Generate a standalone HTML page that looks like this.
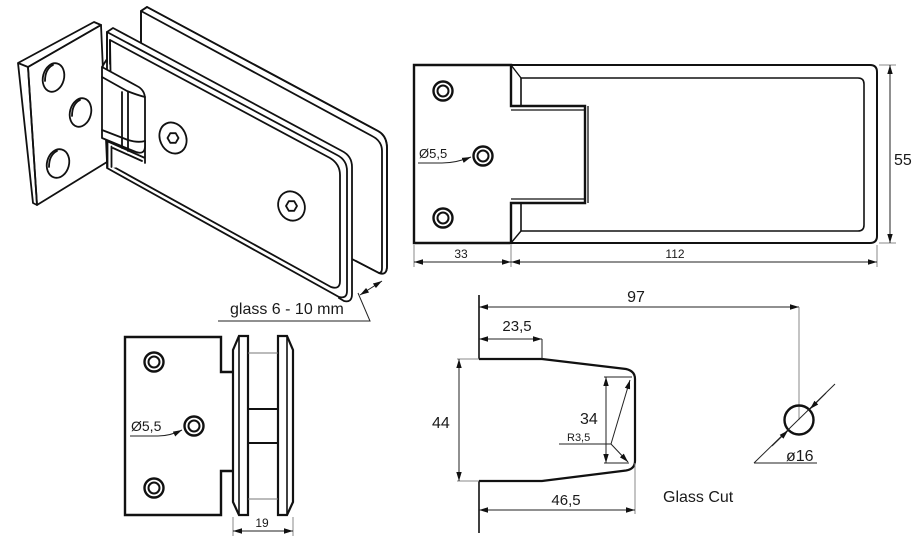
<!DOCTYPE html>
<html><head><meta charset="utf-8"><style>
html,body{margin:0;padding:0;background:#fff;}
svg{display:block;}
text{font-family:"Liberation Sans",Arial,sans-serif;fill:#1a1a1a;}
.i{fill:none;stroke:#111;stroke-width:1.8;stroke-linejoin:round;stroke-linecap:round;}
.iw{fill:#fff;stroke:#111;stroke-width:1.8;stroke-linejoin:round;}
.o{fill:none;stroke:#111;stroke-width:2.4;stroke-linejoin:miter;}
.t{fill:none;stroke:#111;stroke-width:1.2;}
.d{fill:none;stroke:#222;stroke-width:1;}
.e{fill:none;stroke:#8a8a8a;stroke-width:1;}
</style></head><body>
<svg width="918" height="546" viewBox="0 0 918 546" xmlns="http://www.w3.org/2000/svg">
<defs>
<marker id="ar" viewBox="0 0 10 6" refX="10" refY="3" markerWidth="9" markerHeight="6" markerUnits="userSpaceOnUse" orient="auto-start-reverse"><path d="M0,0L10,3L0,6Z" fill="#111"/></marker>
</defs>
<rect width="918" height="546" fill="#fff"/>

<!-- ============ ISOMETRIC VIEW ============ -->
<!-- wall plate -->
<path class="iw" d="M28,67 L101,25 L107,162 L37,205 Z"/>
<path class="i" d="M18,63 L94,22 L101,25 L28,67 Z M18,63 L33,203 L37,205 L28,67"/>
<ellipse class="i" cx="53.5" cy="77.5" rx="10.5" ry="14.5" transform="rotate(15 53.5 77.5)"/>
<path class="i" d="M53,65 Q45,69 45,81"/>
<ellipse class="i" cx="80.5" cy="112.5" rx="10.5" ry="14.5" transform="rotate(15 80.5 112.5)"/>
<path class="i" d="M80,100 Q72,104 72,116"/>
<ellipse class="i" cx="58" cy="163.5" rx="11" ry="14.5" transform="rotate(15 58 163.5)"/>
<path class="i" d="M57,151 Q49,155 49,167"/>

<!-- back clamp plate -->
<path class="iw" d="M141,11 L147,7 L378,131 Q387,136 387,148 L387,266 Q387,276 379,273 L141,150 Z"/>
<path class="i" d="M147,7 L378,131 Q387,136 387,148 L387,266 Q387,276 379,273 L356,261"/>
<path class="i" d="M141,11 L147,7 M141,11 L372,136 Q382,141 382,151 L382,268 Q382,273 379,273"/>
<path class="i" d="M141,11 L141,46"/>

<!-- front clamp plate -->
<path fill="#fff" stroke="none" d="M107,32 L113,28 L342,151 Q352,156 352,167 L352,294 Q352,303 345,301 L107,168 Z"/>
<path class="i" d="M107,32 L113,28 L342,151 Q352,156 352,167 L352,294 Q352,303 344,301 L339,298"/>
<path class="i" d="M107,32 L337,155 Q347,160 347,171 L347,291 Q347,299 339,297 L107,168 Z"/>
<path class="i" d="M110,40 L330,158 Q340,164 340,175 L340,281 Q340,290 331,287 L112,166 L110,40"/>

<!-- screws -->
<ellipse class="i" cx="173" cy="138" rx="13" ry="16" transform="rotate(-25 173 138)"/>
<polygon class="i" points="178.5,138 175.7,142.8 170.3,142.8 167.5,138 170.3,133.2 175.7,133.2"/>
<ellipse class="i" cx="291.5" cy="206" rx="13" ry="15" transform="rotate(-25 291.5 206)"/>
<polygon class="i" points="297,206 294.2,210.8 288.8,210.8 286,206 288.8,201.2 294.2,201.2"/>

<!-- hinge knuckle -->
<path class="i" d="M107,32 V62 M110,40 V64 M102,67 L107,59"/>
<path class="iw" d="M107,141 L145,141 L145,163 L112,168 L107,168 Z" style="stroke:none"/>
<path class="i" d="M107.5,141.5 V168 M111.5,146.5 V167 M108,141.5 L145,158 M113,148 L142,161 M145,141 V163"/>
<path class="iw" d="M102,67 L137,86 Q145,90 145,99 L145,146 Q145,155 136,152 L102,138 Z"/>
<path class="i" d="M102,77 L127,91 Q137,95 145,97"/>
<path class="i" d="M122,92 V148 M128,92 V151"/>
<path class="i" d="M102,130 L128,140 Q138,143 145,141"/>

<!-- glass label -->
<text x="230" y="314" font-size="16">glass 6 - 10 mm</text>
<path class="d" d="M218,321 H370 L358,293"/>
<line class="d" x1="360" y1="295" x2="382" y2="281" marker-start="url(#ar)" marker-end="url(#ar)"/>

<!-- ============ TOP VIEW (top right) ============ -->
<path class="t" d="M511,65 H870 Q877,65 877,72 V236 Q877,243 870,243 H511" style="stroke-width:2"/>
<path class="t" d="M521,106 V78 H858 Q864,78 864,84 V225 Q864,231 858,231 H521 V203" style="stroke-width:1.6"/>
<path class="t" d="M511,65 L521,78 M511,243 L521,231" style="stroke-width:1.4"/>
<path class="o" d="M414,65 H511 V106 H585 V203 H511 V243 H414 Z"/>
<path class="t" d="M511,110 H585 M511,199 H585 M588,106 V203" style="stroke-width:1.3"/>
<circle cx="443" cy="91" r="9.5" fill="none" stroke="#111" stroke-width="2.4"/>
<circle cx="443" cy="91" r="5.5" fill="none" stroke="#111" stroke-width="2"/>
<circle cx="483" cy="156" r="9.5" fill="none" stroke="#111" stroke-width="2.4"/>
<circle cx="483" cy="156" r="5.5" fill="none" stroke="#111" stroke-width="2"/>
<circle cx="443" cy="218" r="9.5" fill="none" stroke="#111" stroke-width="2.4"/>
<circle cx="443" cy="218" r="5.5" fill="none" stroke="#111" stroke-width="2"/>
<text x="419" y="158" font-size="13">Ø5,5</text>
<path class="d" d="M418,163 H442 Q456,163 471,157" marker-end="url(#ar)"/>
<!-- dims -->
<path class="e" d="M414,245 V267 M511,245 V267 M877,245 V267 M879,65 H896 M879,243 H896"/>
<line class="d" x1="414" y1="262" x2="511" y2="262" marker-start="url(#ar)" marker-end="url(#ar)"/>
<line class="d" x1="511" y1="262" x2="877" y2="262" marker-start="url(#ar)" marker-end="url(#ar)"/>
<line class="d" x1="890" y1="65" x2="890" y2="243" marker-start="url(#ar)" marker-end="url(#ar)"/>
<text x="461" y="258" font-size="12" text-anchor="middle">33</text>
<text x="675" y="258" font-size="12" text-anchor="middle">112</text>
<text x="894" y="165" font-size="16">55</text>

<!-- ============ SIDE VIEW (bottom left) ============ -->
<path class="o" d="M233,372 H221 V337 H125 V515 H221 V471 H233"/>
<path class="o" d="M239,336 H248 V515 H239 L233,502 V350 Z" style="stroke-width:2.2"/>
<path class="t" d="M239,336 V515" style="stroke-width:1.6"/>
<path class="o" d="M287,336 H278 V515 H287 L293,502 V350 Z" style="stroke-width:2.2"/>
<path class="t" d="M287,336 V515" style="stroke-width:1.6"/>
<path class="t" d="M248,353 H278 M248,499 H278" style="stroke:#777;stroke-width:1"/>
<path class="o" d="M248,409 H278 M248,443 H278" style="stroke-width:2"/>
<circle cx="154" cy="362" r="9.5" fill="none" stroke="#111" stroke-width="2.4"/>
<circle cx="154" cy="362" r="5.5" fill="none" stroke="#111" stroke-width="2"/>
<circle cx="194" cy="426" r="9.5" fill="none" stroke="#111" stroke-width="2.4"/>
<circle cx="194" cy="426" r="5.5" fill="none" stroke="#111" stroke-width="2"/>
<circle cx="154" cy="488" r="9.5" fill="none" stroke="#111" stroke-width="2.4"/>
<circle cx="154" cy="488" r="5.5" fill="none" stroke="#111" stroke-width="2"/>
<text x="131" y="431" font-size="14">Ø5,5</text>
<path class="d" d="M130,436 H158 Q170,436 182,430" marker-end="url(#ar)"/>
<path class="e" d="M233,517 V536 M293,517 V536"/>
<line class="d" x1="233" y1="531" x2="293" y2="531" marker-start="url(#ar)" marker-end="url(#ar)"/>
<text x="262" y="527" font-size="12" text-anchor="middle">19</text>

<!-- ============ GLASS CUT (bottom right) ============ -->
<path class="t" d="M479,295 V359 M479,481 V533" style="stroke-width:1.6"/>
<path class="o" d="M479,359 H542 L626,369 Q635,371 635,379 V461 Q635,469 626,470.5 L542,481 H479" style="stroke-width:2.2"/>
<!-- 97 -->
<line class="d" x1="479" y1="307" x2="799" y2="307" marker-start="url(#ar)" marker-end="url(#ar)"/>
<path class="e" d="M799,307 V420"/>
<text x="636" y="302" font-size="16" text-anchor="middle">97</text>
<!-- 23,5 -->
<line class="d" x1="479" y1="339" x2="542" y2="339" marker-start="url(#ar)" marker-end="url(#ar)"/>
<path class="d" d="M542,339 V359"/>
<text x="517" y="331" font-size="15" text-anchor="middle">23,5</text>
<!-- 44 -->
<path class="e" d="M457,359 H479 M457,481 H479"/>
<line class="d" x1="459" y1="359" x2="459" y2="481" marker-start="url(#ar)" marker-end="url(#ar)"/>
<text x="432" y="428" font-size="16">44</text>
<!-- 34 -->
<path class="d" d="M604,377 H632 M604,463 H629"/>
<line class="d" x1="606" y1="377" x2="606" y2="463" marker-start="url(#ar)" marker-end="url(#ar)"/>
<text x="580" y="424" font-size="16">34</text>
<!-- R3,5 -->
<path class="d" d="M559,444 H611"/>
<line class="d" x1="611" y1="444" x2="630" y2="380" marker-end="url(#ar)"/>
<line class="d" x1="611" y1="444" x2="628" y2="462" marker-end="url(#ar)"/>
<text x="567" y="441" font-size="11">R3,5</text>
<!-- 46,5 -->
<path class="e" d="M635,463 V514"/>
<line class="d" x1="479" y1="510" x2="635" y2="510" marker-start="url(#ar)" marker-end="url(#ar)"/>
<text x="566" y="505" font-size="15" text-anchor="middle">46,5</text>
<text x="663" y="502" font-size="16">Glass Cut</text>
<!-- circle 16 -->
<circle cx="799" cy="420" r="14.5" fill="none" stroke="#111" stroke-width="2.4"/>
<path class="d" d="M754,463 L835,384 M754,463 H817"/>
<line class="d" x1="772" y1="446" x2="788" y2="430.5" marker-end="url(#ar)"/>
<line class="d" x1="826" y1="393" x2="810" y2="409" marker-end="url(#ar)"/>
<text x="786" y="461" font-size="16">ø16</text>
</svg>
</body></html>
